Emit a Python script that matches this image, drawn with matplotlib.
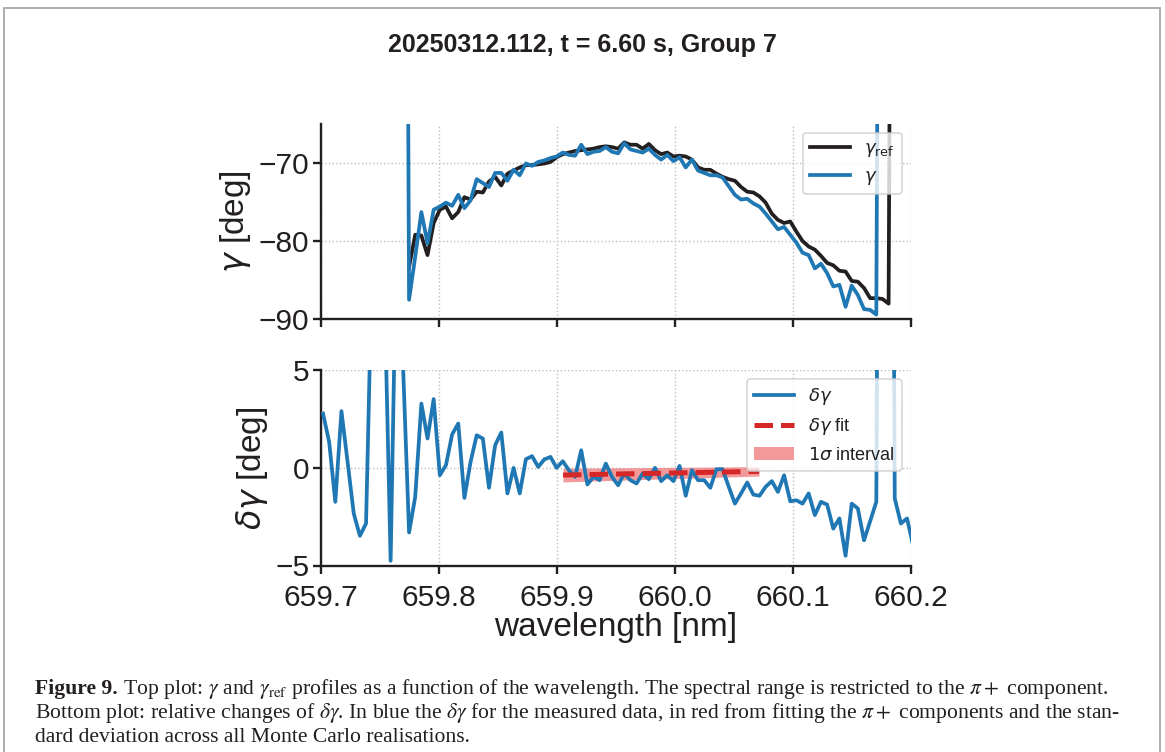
import numpy as np
import matplotlib
matplotlib.use("Agg")
import matplotlib.pyplot as plt
from matplotlib.patches import Rectangle

# ---------------- data ----------------
# wavelength grid of the spectrometer pixels
wl_start = 659.7017
wl_step = 0.00521

# delta gamma for all pixels (index 0 .. 96)
dgamma = [2.78, 1.33, -1.74, 2.90, 0.30, -2.34, -3.48, -2.85, 10.7, 14.0,
          9.1, -4.76, 12.8, 5.4, -3.31, -1.48, 3.29, 1.50, 3.52, -0.38,
          0.14, 1.71, 2.27, -1.54, 0.30, 1.67, 1.50, -1.02, 1.16, 1.81,
          -1.31, 0.00, -1.31, 0.44, 0.60, 0.05, 0.43, 0.56, 0.00, 0.34,
          -0.12, -0.46, 0.90, -0.85, -0.46, -0.63, 0.22, -0.46, -0.89, -0.29,
          -0.63, -0.80, -0.29, -0.58, 0.00, -0.68, -0.38, -0.68, 0.10, -1.43,
          -0.12, -0.63, -0.63, -1.02, -0.07, -0.07, -0.97, -1.83, -1.31, -0.75,
          -1.37, -1.43, -0.97, -0.68, -1.23, -0.38, -1.71, -1.66, -1.83, -1.31,
          -2.42, -1.74, -1.88, -3.11, -2.59, -4.50, -1.83, -2.08, -3.71, -2.73,
          -1.74, 60.0, 60.0, -1.57, -2.85, -2.59, -4.00]

# gamma (measured), pixels 13 .. 91
gamma_first = 13
gamma = [80.0, -87.5, -82.0, -76.3, -80.3, -76.0, -75.6, -75.1, -75.5, -74.1,
         -75.8, -74.8, -72.1, -72.6, -73.1, -71.3, -71.3, -72.3, -70.9, -71.6,
         -70.1, -70.4, -69.9, -69.7, -69.4, -69.2, -68.7, -69.0, -69.1, -67.7,
         -68.9, -68.6, -68.5, -68.0, -68.6, -68.8, -67.5, -68.3, -68.5, -68.7,
         -68.2, -69.0, -69.6, -69.0, -69.8, -69.3, -70.6, -69.6, -71.0, -71.3,
         -71.6, -71.6, -71.9, -73.0, -74.1, -74.7, -74.6, -75.2, -75.6, -76.5,
         -77.5, -78.5, -78.2, -79.2, -80.2, -81.5, -81.8, -83.5, -82.9, -84.1,
         -85.8, -85.6, -88.4, -85.7, -86.9, -88.7, -88.8, -89.4, 80.0]

# gamma reference, pixels 14 .. 93
gamma_ref_first = 14
gamma_ref = [-83.3, -79.2, -79.3, -81.8, -77.7, -76.0, -75.6, -77.1, -76.3, -74.4,
             -74.7, -73.7, -73.8, -72.4, -71.8, -72.9, -71.4, -71.0, -70.6, -70.3,
             -70.3, -70.2, -70.1, -69.9, -69.3, -68.9, -68.7, -68.5, -68.4, -68.3,
             -68.2, -68.0, -67.9, -68.0, -68.2, -67.4, -67.7, -67.7, -68.2, -67.6,
             -68.4, -68.9, -68.7, -69.2, -69.1, -69.2, -69.6, -70.6, -70.9, -70.9,
             -71.4, -71.8, -72.1, -72.3, -73.1, -73.7, -73.8, -74.3, -75.1, -76.5,
             -77.3, -77.7, -77.5, -78.8, -80.0, -80.7, -81.1, -81.9, -82.8, -83.1,
             -83.8, -83.9, -85.1, -85.2, -86.0, -87.3, -87.3, -87.4, -88.0, 80.0]

# linear fit of delta gamma with 1 sigma interval
fit_wl = [659.9051, 660.0712]
fit_val = [-0.37, -0.18]
fit_sigma = [0.35, 0.24]

title = "20250312.112, t = 6.60 s, Group 7"
xticks = [659.7, 659.8, 659.9, 660.0, 660.1, 660.2]
xticklabels = ["659.7", "659.8", "659.9", "660.0", "660.1", "660.2"]
yticks_top = [-70, -80, -90]
yticks_bot = [5, 0, -5]

caption_bold = "Figure 9."
caption_l1 = (r"Top plot: $\gamma$ and $\gamma_{\mathrm{ref}}$ profiles as a function of the "
              r"wavelength. The spectral range is restricted to the $\pi+$ component.")
caption_l2 = (r"Bottom plot: relative changes of $\delta\gamma$. In blue the $\delta\gamma$ for "
              r"the measured data, in red from fitting the $\pi+$ components and the stan-")
caption_l3 = "dard deviation across all Monte Carlo realisations."

# ---------------- figure ----------------
plt.rcParams["font.family"] = ["Liberation Sans", "DejaVu Sans"]
plt.rcParams["axes.unicode_minus"] = True

W, H = 1165, 752
fig = plt.figure(figsize=(W / 100, H / 100), dpi=100)
ink = "#231f20"

wl_all = wl_start + wl_step * np.arange(len(dgamma))
wl_g = wl_start + wl_step * (gamma_first + np.arange(len(gamma)))
wl_gr = wl_start + wl_step * (gamma_ref_first + np.arange(len(gamma_ref)))

def px(x0, y0, x1, y1):
    return [x0 / W, 1 - y1 / H, (x1 - x0) / W, (y1 - y0) / H]

ax1 = fig.add_axes(px(321, 123.6, 911, 319.3))
ax2 = fig.add_axes(px(321, 370.2, 911, 565.5), sharex=ax1)

blue = "#1f77b4"
lw = 2.7

ax1.plot(wl_gr, gamma_ref, color=ink, lw=lw, label=r"$\gamma_{\mathrm{ref}}$", zorder=3)
ax1.plot(wl_g, gamma, color=blue, lw=lw, label=r"$\gamma$", zorder=4)
ax1.set_ylim(-90, -65)

ax2.plot(wl_all, dgamma, color=blue, lw=lw, label=r"$\delta\gamma$", zorder=3)
fv = np.array(fit_val)
fs = np.array(fit_sigma)
ax2.plot(fit_wl, fit_val, color="#d62728", lw=3.6, ls="--", label=r"$\delta\gamma$ fit", zorder=5)
ax2.fill_between(fit_wl, fv - fs, fv + fs, color="lightcoral", alpha=0.8, lw=0,
                 label=r"$1\sigma$ interval", zorder=2)
ax2.set_ylim(-5, 5)
ax2.set_xlim(659.7, 660.2)

for ax, yt in ((ax1, yticks_top), (ax2, yticks_bot)):
    ax.set_yticks(yt)
    ax.grid(True, ls=":", color="#bdbdbd", lw=1.0)
    ax.set_axisbelow(True)
    for s in ("top", "right"):
        ax.spines[s].set_visible(False)
    for s in ("left", "bottom"):
        ax.spines[s].set_linewidth(1.7)
        ax.spines[s].set_color(ink)
    ax.tick_params(direction="out", length=5.5, width=1.7, color=ink,
                   labelsize=21.5, labelcolor=ink, pad=3)

ax2.tick_params(axis="x", pad=7.5)
ax2.set_xticks(xticks)
ax2.set_xticklabels(xticklabels)
plt.setp(ax1.get_xticklabels(), visible=False)

ax1.set_ylabel(r"$\gamma$ [deg]", fontsize=24, color=ink)
ax2.set_ylabel(r"$\delta\gamma$ [deg]", fontsize=24, color=ink)
ax2.set_xlabel("wavelength [nm]", fontsize=24, color=ink, labelpad=0.5)

leg_kw = dict(loc="upper right", fontsize=13, framealpha=0.8, edgecolor="#cccccc",
              handlelength=2.2, fancybox=True)
l1 = ax1.legend(**leg_kw)
l2 = ax2.legend(**leg_kw)
for lg in (l1, l2):
    lg.get_frame().set_linewidth(1.2)
    for t in lg.get_texts():
        t.set_color(ink)

fig.text(0.5, 1 - 45 / H, title, ha="center", va="center", fontsize=18,
         weight="bold", color=ink, family="Liberation Sans")

# frame around the figure panel
fig.add_artist(Rectangle((4 / W, -0.01), (1160 - 4) / W, 1.01 - 8 / H,
                         transform=fig.transFigure, fill=False,
                         edgecolor="#a8a8a8", lw=1.3))

# caption
cap = dict(family="Liberation Serif", math_fontfamily="stix", color=ink,
           va="baseline", ha="left")
cap_fs = 14.0
x0 = 35
fig.canvas.draw()
r = fig.canvas.get_renderer()
probe = fig.text(0, 0, caption_l2, fontsize=cap_fs, **cap)
wpx = probe.get_window_extent(r).width
probe.remove()
cap_fs = cap_fs * (1122 - 35) / wpx

tb = fig.text(x0 / W, 1 - 694 / H, caption_bold, fontsize=cap_fs, weight="bold", **cap)
wb = tb.get_window_extent(r).width
fig.text((x0 + wb + 5) / W, 1 - 694 / H, caption_l1, fontsize=cap_fs, **cap)
fig.text(x0 / W, 1 - 718 / H, caption_l2, fontsize=cap_fs, **cap)
fig.text(x0 / W, 1 - 742 / H, caption_l3, fontsize=cap_fs, **cap)

fig.savefig("out.png", dpi=100, facecolor="white")
